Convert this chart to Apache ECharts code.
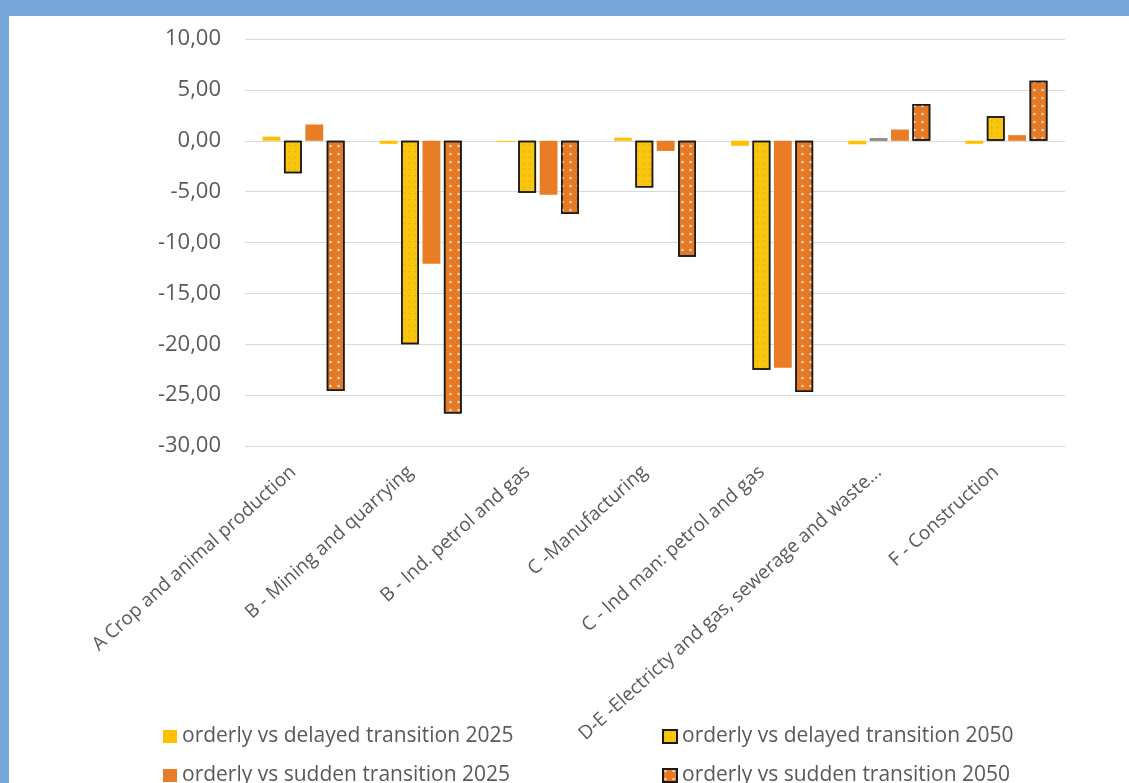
<!DOCTYPE html>
<html>
<head>
<meta charset="utf-8">
<script src="https://cdn.jsdelivr.net/npm/echarts@6/dist/echarts.min.js"></script>
<style>
html,body{margin:0;padding:0;background:#fff;}
#c{width:1129px;height:783px;}
</style>
</head>
<body>
<div id="c"></div>
<script>
var categories = [
  'A Crop and animal production',
  'B - Mining and quarrying',
  'B - Ind. petrol and gas',
  'C -Manufacturing',
  'C - Ind man: petrol and gas',
  'D-E -Electricty and gas, sewerage and waste...',
  'F - Construction'
];
var seriesNames = [
  'orderly vs delayed transition 2025',
  'orderly vs delayed transition 2050',
  'orderly vs sudden transition 2025',
  'orderly vs sudden transition 2050'
];
var delayed2025 = [0.4, -0.3, -0.1, 0.3, -0.5, -0.35, -0.3];
var delayed2050 = [-3.2, -20.0, -5.1, -4.6, -22.5, 0.25, 2.4];
var sudden2025  = [1.6, -12.1, -5.3, -1.0, -22.3, 1.1, 0.55];
var sudden2050  = [-24.6, -26.8, -7.2, -11.4, -24.7, 3.6, 5.9];
var yTickValues = [-30, -25, -20, -15, -10, -5, 0, 5, 10];
var yTickLabels = ['-30,00', '-25,00', '-20,00', '-15,00', '-10,00', '-5,00', '0,00', '5,00', '10,00'];

var chart = echarts.init(document.getElementById('c'), null, {renderer: 'canvas'});
var txt = '#595959';
var fontFam = '"Open Sans", "Noto Sans", sans-serif';

var yellowDecal = {symbol: 'circle', symbolSize: 0.5, color: 'rgba(214,140,0,0.55)', dashArrayX: [3, 3], dashArrayY: [3, 3], rotation: 0};
var orangeDecal = {symbol: 'circle', symbolSize: 0.6, color: 'rgba(255,255,255,0.75)', dashArrayX: [5, 3], dashArrayY: [4, 4], rotation: 0};

function mk(name, data, style) {
  return {
    name: name, type: 'bar', data: data,
    barGap: '20%', barCategoryGap: '30%',
    itemStyle: style,
    emphasis: {disabled: true}
  };
}

function lg(name, left, top) {
  return {
    data: [name], left: left, top: top, padding: 0,
    itemWidth: 14, itemHeight: 13, icon: 'rect', itemGap: 0,
    textStyle: {color: txt, fontSize: 21, fontFamily: fontFam},
    selectedMode: false
  };
}

var d2050Data = delayed2050.map(function (v, i) {
  if (i === 5) return {value: v, itemStyle: {color: '#A5A5A5', borderColor: '#8c8c8c', borderWidth: 1}};
  return v;
});

chart.setOption({
  animation: false,
  backgroundColor: '#fff',
  graphic: [
    {type: 'rect', shape: {x: 0, y: 0, width: 1129, height: 16}, style: {fill: '#77A6D8'}, z: 100},
    {type: 'rect', shape: {x: 0, y: 0, width: 9, height: 783}, style: {fill: '#77A6D8'}, z: 100}
  ],
  grid: {left: 245, right: 64, top: 39, bottom: 337, containLabel: false},
  legend: [
    lg(seriesNames[0], 163, 726),
    lg(seriesNames[2], 163, 765),
    lg(seriesNames[1], 662, 726),
    lg(seriesNames[3], 662, 765)
  ],
  xAxis: {
    type: 'category', data: categories,
    axisLine: {show: false, onZero: false},
    axisTick: {show: false},
    axisLabel: {rotate: 42, interval: 0, color: txt, fontSize: 19, fontFamily: fontFam, margin: 14, padding: [0, 14, 0, 0]}
  },
  yAxis: {
    type: 'value', min: -30, max: 10, interval: 5,
    axisLine: {show: false}, axisTick: {show: false},
    splitLine: {lineStyle: {color: '#D9D9D9', width: 1}},
    axisLabel: {
      color: txt, fontSize: 22, fontFamily: fontFam, margin: 24,
      formatter: function (v) { var i = yTickValues.indexOf(v); return i >= 0 ? yTickLabels[i] : ''; }
    }
  },
  series: [
    mk(seriesNames[0], delayed2025, {color: '#FFC000'}),
    mk(seriesNames[1], d2050Data, {color: '#F9C60F', borderColor: '#1a1a1a', borderWidth: 1.5, decal: yellowDecal}),
    mk(seriesNames[2], sudden2025, {color: '#E87D25'}),
    mk(seriesNames[3], sudden2050, {color: '#E47A26', borderColor: '#1a1a1a', borderWidth: 1.5, decal: orangeDecal})
  ]
});
</script>
</body>
</html>
